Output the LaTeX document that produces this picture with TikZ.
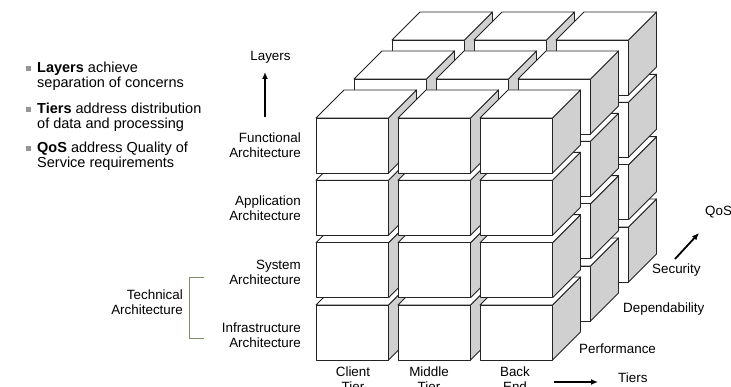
\documentclass[tikz,border=0pt]{standalone}
\usepackage{fontspec}
\setmainfont{Liberation Sans}
\usetikzlibrary{arrows.meta}
\definecolor{sidegray}{RGB}{208,208,208}
\definecolor{edgecol}{RGB}{35,35,35}
\definecolor{brkcol}{RGB}{125,140,105}
\definecolor{bulcol}{RGB}{150,150,150}
\begin{document}
\begin{tikzpicture}[x=1pt,y=-1pt,
  cubeedge/.style={draw=edgecol, line width=0.9pt, line join=round},
  bigtxt/.style={font=\fontsize{14.5}{14}\selectfont, inner sep=0pt, anchor=base west},
  lbl/.style={font=\fontsize{13.4}{15}\selectfont, inner sep=0pt},
  bulletsq/.style={fill=bulcol, draw=none, minimum size=4.5pt, inner sep=0pt},
  bigarrow/.style={line width=1.8pt, -{Latex[length=7pt,width=6pt]}}]
\useasboundingbox (0,0) rectangle (731,387);
\clip (0,0) rectangle (731,387);
\fill[white] (0,0) rectangle (731,387);

% cubes: depth k (0 front), row r (0 top), column c (0 left)
\foreach \k in {2,1,0}{
 \foreach \r in {3,2,1,0}{
  \foreach \c in {0,1,2}{
    \pgfmathsetmacro\X{316+82*\c+38*\k}
    \pgfmathsetmacro\Y{118+62.33*\r-39*\k}
    \draw[cubeedge, fill=sidegray] (\X+72.5,\Y) -- ++(28,-28) -- ++(0,55) -- ++(-28,28) -- cycle;
    \draw[cubeedge, fill=white] (\X,\Y) -- ++(28,-28) -- ++(72.5,0) -- ++(-28,28) -- cycle;
    \draw[cubeedge, fill=white] (\X,\Y) rectangle ++(72.5,55);
  }}}

% left list
\node[bulletsq] (b1) at (28.3,68.5) {};
\node[bigtxt] (t1) at (37,73) {\begin{tabular}[t]{@{}l@{}}\textbf{Layers} achieve\\separation of concerns\end{tabular}};
\node[bulletsq] (b2) at (28.3,109.5) {};
\node[bigtxt] (t2) at (37,114) {\begin{tabular}[t]{@{}l@{}}\textbf{Tiers} address distribution\\of data and processing\end{tabular}};
\node[bulletsq] (b3) at (28.3,148.5) {};
\node[bigtxt] (t3) at (37,153) {\begin{tabular}[t]{@{}l@{}}\textbf{QoS} address Quality of\\Service requirements\end{tabular}};

% layers
\node[lbl, anchor=base] (layers) at (270.5,61) {Layers};
\coordinate (la0) at (265,117);
\coordinate (la1) at (265,72);
\draw[bigarrow] (la0) -- (la1);
\node[lbl, anchor=base east] (func) at (301,143) {\begin{tabular}[t]{@{}r@{}}Functional\\Architecture\end{tabular}};
\node[lbl, anchor=base east] (appl) at (301,206) {\begin{tabular}[t]{@{}r@{}}Application\\Architecture\end{tabular}};
\node[lbl, anchor=base east] (syst) at (301,270) {\begin{tabular}[t]{@{}r@{}}System\\Architecture\end{tabular}};
\node[lbl, anchor=base east] (infr) at (301,333) {\begin{tabular}[t]{@{}r@{}}Infrastructure\\Architecture\end{tabular}};
\node[lbl, anchor=base east] (tech) at (183,300) {\begin{tabular}[t]{@{}r@{}}Technical\\Architecture\end{tabular}};
\coordinate (br0) at (204,277);
\coordinate (br1) at (189,277);
\coordinate (br2) at (189,338);
\coordinate (br3) at (204,338);
\draw[brkcol, line width=0.9pt] (br0) -- (br1) -- (br2) -- (br3);

% tiers
\node[lbl, anchor=base] (client) at (353,377) {\begin{tabular}[t]{@{}c@{}}Client\\Tier\end{tabular}};
\node[lbl, anchor=base] (middle) at (429,377) {\begin{tabular}[t]{@{}c@{}}Middle\\Tier\end{tabular}};
\node[lbl, anchor=base] (back) at (515,377) {\begin{tabular}[t]{@{}c@{}}Back\\End\end{tabular}};
\coordinate (ta0) at (554,382);
\coordinate (ta1) at (598,382);
\draw[bigarrow] (ta0) -- (ta1);
\node[lbl, anchor=base west] (tiers) at (618,382) {Tiers};

% qos
\node[lbl, anchor=base west] (perf) at (579,353) {Performance};
\node[lbl, anchor=base west] (dep) at (623,313) {Dependability};
\node[lbl, anchor=base west] (sec) at (652,274) {Security};
\node[lbl, anchor=base west] (qos) at (705,216) {QoS};
\coordinate (qa0) at (675,259);
\coordinate (qa1) at (699,233);
\draw[bigarrow] (qa0) -- (qa1);
\end{tikzpicture}
\end{document}
